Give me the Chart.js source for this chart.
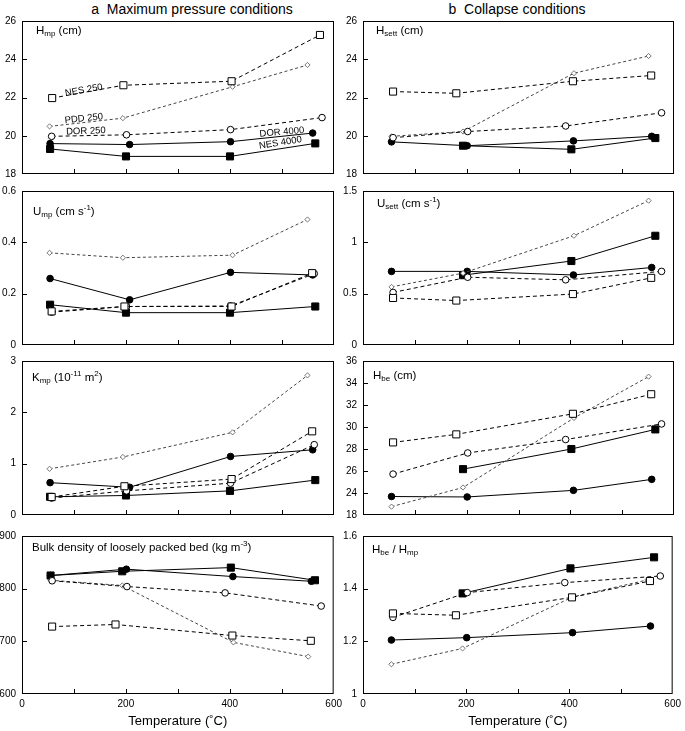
<!DOCTYPE html>
<html>
<head>
<meta charset="utf-8">
<script src="https://cdn.jsdelivr.net/npm/chart.js@4.4.0/dist/chart.umd.min.js"></script>
<style>
  body { margin: 0; background: #fff; }
  #wrap { position: relative; width: 685px; height: 731px; overflow: hidden; font-family: "Liberation Sans", Arial, sans-serif; }
  canvas { position: absolute; }
  .head { position: absolute; top: 1px; width: 300px; text-align: center; font-size: 14px; line-height: 16px; color: #000; white-space: pre; }
</style>
</head>
<body>
<div id="wrap">
  <div class="head" style="left:42px">a  Maximum pressure conditions</div>
  <div class="head" style="left:367px">b  Collapse conditions</div>
</div>
<script>
// temperatures (deg C) per series, max-pressure runs (left, rows 1-3)
const tNES250a = [57, 197, 403, 558];
const tPDD250a = [53, 194, 405, 549];
const tDOR250a = [57, 201, 401, 562];
const tDOR4000a = [54, 207, 401, 559];
const tNES4000a = [54, 200, 400, 564];
const tNES250Hmp = [58, 195, 403, 573];
const tDOR250Hmp = [57, 201, 401, 577];

// temperatures for bulk density + collapse runs
const tNES250b = [58, 180, 405, 556];
const tPDD250b = [55, 193, 407, 551];
const tDOR250b = [58, 202, 391, 576];
const tDOR4000b = [55, 201, 406, 557];
const tNES4000b = [55, 193, 402, 564];

// a: Hmp (cm)
const hmpNES250 = [21.97, 22.64, 22.85, 25.27];
const hmpPDD250 = [20.49, 20.92, 22.56, 23.7];
const hmpDOR250 = [19.97, 20.05, 20.32, 20.95];
const hmpDOR4000 = [19.59, 19.54, 19.69, 20.14];
const hmpNES4000 = [19.31, 18.92, 18.92, 19.6];

// a: Ump (cm/s)
const umpNES250 = [0.131, 0.150, 0.150, 0.280];
const umpPDD250 = [0.359, 0.340, 0.350, 0.489];
const umpDOR250 = [0.128, 0.150, 0.152, 0.278];
const umpDOR4000 = [0.259, 0.176, 0.283, 0.273];
const umpNES4000 = [0.157, 0.126, 0.126, 0.150];

// a: Kmp (1e-11 m2)
const kmpNES250 = [0.35, 0.56, 0.70, 1.63];
const kmpPDD250 = [0.90, 1.13, 1.61, 2.72];
const kmpDOR250 = [0.33, 0.47, 0.62, 1.37];
const kmpDOR4000 = [0.63, 0.54, 1.14, 1.27];
const kmpNES4000 = [0.355, 0.38, 0.47, 0.68];

// a: bulk density (kg/m3)
const rhoNES250 = [728, 732, 711, 701];
const rhoPDD250 = [816, 806, 698, 671];
const rhoDOR250 = [815, 804, 792, 767];
const rhoDOR4000 = [825, 837, 823, 814];
const rhoNES4000 = [825, 833, 840, 816];

// b: Hsett (cm)
const hsNES250 = [22.31, 22.22, 22.85, 23.15];
const hsPDD250 = [19.97, 20.22, 23.27, 24.17];
const hsDOR250 = [19.9, 20.22, 20.51, 21.2];
const hsDOR4000 = [19.68, 19.48, 19.73, 19.97];
const hsNES4000 = [null, 19.48, 19.29, 19.88];

// b: Usett (cm/s)
const usNES250 = [0.458, 0.433, 0.496, 0.654];
const usPDD250 = [0.566, 0.70, 1.064, 1.406];
const usDOR250 = [0.512, 0.66, 0.635, 0.717];
const usDOR4000 = [0.717, 0.717, 0.682, 0.755];
const usNES4000 = [null, 0.68, 0.818, 1.064];

// b: Hbe (cm) - axis bottom is labelled 18 in the original
const hbeNES250 = [28.6, 29.33, 31.2, 32.98];
const hbePDD250 = [22.76, 24.5, 30.82, 34.58];
const hbeDOR250 = [25.72, 27.64, 28.86, 30.28];
const hbeDOR4000 = [23.68, 23.64, 24.24, 25.24];
const hbeNES4000 = [null, 26.17, 28.0, 29.78];

// b: Hbe / Hmp
const ratNES250 = [1.306, 1.299, 1.367, 1.429];
const ratPDD250 = [1.113, 1.173, 1.369, 1.433];
const ratDOR250 = [1.291, 1.385, 1.423, 1.448];
const ratDOR4000 = [1.205, 1.214, 1.233, 1.258];
const ratNES4000 = [null, 1.382, 1.477, 1.519];

const xTicks = [0, 200, 400, 600];

const FONT = '"Liberation Sans", Arial, sans-serif';
Chart.defaults.font.family = FONT;
Chart.defaults.font.size = 10;
Chart.defaults.color = '#000';

const styles = {
    NES250: { borderColor: '#000', borderWidth: 1, borderDash: [4, 3], pointStyle: 'rect', pointRadius: 5,
              pointBackgroundColor: '#fff', pointBorderColor: '#000', pointBorderWidth: 1 },
    PDD250: { borderColor: '#444', borderWidth: 1, borderDash: [3, 2.5], pointStyle: 'rectRot', pointRadius: 2.6,
              pointBackgroundColor: '#fff', pointBorderColor: '#555', pointBorderWidth: 0.8 },
    DOR250: { borderColor: '#000', borderWidth: 1, borderDash: [4, 3], pointStyle: 'circle', pointRadius: 3.3,
              pointBackgroundColor: '#fff', pointBorderColor: '#000', pointBorderWidth: 1 },
    DOR4000: { borderColor: '#000', borderWidth: 1, pointStyle: 'circle', pointRadius: 3.3,
               pointBackgroundColor: '#000', pointBorderColor: '#000', pointBorderWidth: 1 },
    NES4000: { borderColor: '#000', borderWidth: 1, pointStyle: 'rect', pointRadius: 5,
               pointBackgroundColor: '#000', pointBorderColor: '#000', pointBorderWidth: 1 }
};

// plot-area placement
const rows = [{ top: 21, bottom: 178 }, { top: 191, bottom: 349 }, { top: 361, bottom: 519 }, { top: 536, bottom: 694 }];
const cols = [{ left: 0, width: 346, axisW: 22, padRight: 12 }, { left: 330, width: 355, axisW: 33, padRight: 11 }];

function drawRich(ctx, parts, x, y) {
    let cx = x;
    parts.forEach(([txt, kind]) => {
        const size = kind ? 8 : 11.5;
        ctx.font = size + 'px ' + FONT;
        const dy = kind === 'sub' ? 3 : (kind === 'sup' ? -4 : 0);
        ctx.fillText(txt, cx, y + dy);
        cx += ctx.measureText(txt).width;
    });
}

function makePanel(p) {
    const r = rows[p.row], c = cols[p.col];
    const last = p.row === 3;
    const top = r.top - 12;
    const h = last ? 731 - top : r.bottom - r.top + 20;
    const cv = document.createElement('canvas');
    cv.width = c.width; cv.height = h;
    cv.style.left = c.left + 'px'; cv.style.top = top + 'px';
    cv.style.width = c.width + 'px'; cv.style.height = h + 'px';
    document.getElementById('wrap').appendChild(cv);

    const frame = {
        id: 'frame',
        beforeDatasetsDraw(chart) {
            const { ctx, chartArea: a, scales: { x, y } } = chart;
            ctx.save();
            ctx.strokeStyle = '#000';
            ctx.lineWidth = 1;
            ctx.strokeRect(a.left + 0.5, a.top + 0.5, a.right - a.left - 1, a.bottom - a.top - 1);
            ctx.beginPath();
            // inward tick marks
            for (let t = 100; t < 600; t += 100) {
                const px = Math.round(x.getPixelForValue(t)) + 0.5;
                ctx.moveTo(px, a.bottom);
                ctx.lineTo(px, a.bottom - 5);
            }
            y.ticks.forEach(tk => {
                if (tk.value <= p.yMin || tk.value >= p.yMax) return;
                const py = Math.round(y.getPixelForValue(tk.value)) + 0.5;
                ctx.moveTo(a.left, py);
                ctx.lineTo(a.left + 5, py);
            });
            ctx.stroke();
            ctx.restore();
        },
        afterDraw(chart) {
            const { ctx, chartArea: a, scales: { x, y } } = chart;
            ctx.save();
            ctx.fillStyle = '#000';
            ctx.textBaseline = 'middle';
            ctx.textAlign = 'left';
            drawRich(ctx, p.label, a.left + p.labelPos[0], a.top + p.labelPos[1]);
            (p.notes || []).forEach(([txt, t, v, ang]) => {
                ctx.save();
                ctx.translate(x.getPixelForValue(t), y.getPixelForValue(v));
                ctx.rotate(ang * Math.PI / 180);
                ctx.font = '9.5px ' + FONT;
                ctx.textAlign = 'center';
                ctx.fillText(txt, 0, 0);
                ctx.restore();
            });
            ctx.restore();
        }
    };

    return new Chart(cv, {
        type: 'line',
        data: {
            datasets: p.series.map(([key, ts, vs]) => Object.assign({
                label: key,
                data: ts.map((t, i) => ({ x: t, y: vs[i] })),
                tension: 0,
                fill: false
            }, styles[key]))
        },
        options: {
            responsive: false,
            animation: false,
            events: [],
            devicePixelRatio: 1,
            layout: { padding: { top: 12, bottom: last ? 0 : 8, left: 0, right: c.padRight } },
            plugins: { legend: { display: false }, tooltip: { enabled: false } },
            scales: {
                x: {
                    type: 'linear', min: 0, max: 600, display: last,
                    afterBuildTicks: s => { s.ticks = xTicks.map(v => ({ value: v })); },
                    ticks: { padding: 4, maxRotation: 0, autoSkip: false, font: { size: 10 } },
                    grid: { display: false, drawTicks: false },
                    border: { display: false },
                    title: { display: last, text: 'Temperature (˚C)', font: { size: 13 }, padding: { top: 0, bottom: 2 } },
                    afterFit: s => { s.height = last ? 37 : 0; }
                },
                y: {
                    min: p.yMin, max: p.yMax,
                    ticks: {
                        stepSize: p.yStep, padding: 6, font: { size: 10 },
                        callback: v => (p.yFake && v === p.yMin) ? p.yFake : String(+v.toFixed(2))
                    },
                    grid: { display: false, drawTicks: false },
                    border: { display: false },
                    afterFit: s => { s.width = c.axisW; }
                }
            }
        },
        plugins: [frame]
    });
}

makePanel({
    row: 0, col: 0, yMin: 18, yMax: 26, yStep: 2,
    label: [['H'], ['mp', 'sub'], [' (cm)']], labelPos: [14, 10],
    series: [['NES250', tNES250Hmp, hmpNES250], ['DOR250', tDOR250Hmp, hmpDOR250], ['PDD250', tPDD250a, hmpPDD250],
             ['DOR4000', tDOR4000a, hmpDOR4000], ['NES4000', tNES4000a, hmpNES4000]],
    notes: [['NES 250', 119, 22.38, -10], ['PDD 250', 119, 20.9, -6], ['DOR 250', 123, 20.24, -2],
            ['DOR 4000', 500, 20.19, -5], ['NES 4000', 497, 19.63, -9]]
});
makePanel({
    row: 1, col: 0, yMin: 0, yMax: 0.6, yStep: 0.2,
    label: [['U'], ['mp', 'sub'], [' (cm s'], ['-1', 'sup'], [')']], labelPos: [11, 21],
    series: [['NES250', tNES250a, umpNES250], ['DOR250', tDOR250a, umpDOR250], ['PDD250', tPDD250a, umpPDD250],
             ['DOR4000', tDOR4000a, umpDOR4000], ['NES4000', tNES4000a, umpNES4000]]
});
makePanel({
    row: 2, col: 0, yMin: 0, yMax: 3, yStep: 1,
    label: [['K'], ['mp', 'sub'], [' (10'], ['-11', 'sup'], [' m'], ['2', 'sup'], [')']], labelPos: [10, 17],
    series: [['NES250', tNES250a, kmpNES250], ['DOR250', tDOR250a, kmpDOR250], ['PDD250', tPDD250a, kmpPDD250],
             ['DOR4000', tDOR4000a, kmpDOR4000], ['NES4000', tNES4000a, kmpNES4000]]
});
makePanel({
    row: 3, col: 0, yMin: 600, yMax: 900, yStep: 100,
    label: [['Bulk density of loosely packed bed (kg m'], ['-3', 'sup'], [')']], labelPos: [10, 12],
    series: [['NES250', tNES250b, rhoNES250], ['DOR250', tDOR250b, rhoDOR250], ['PDD250', tPDD250b, rhoPDD250],
             ['DOR4000', tDOR4000b, rhoDOR4000], ['NES4000', tNES4000b, rhoNES4000]]
});
makePanel({
    row: 0, col: 1, yMin: 18, yMax: 26, yStep: 2,
    label: [['H'], ['sett', 'sub'], [' (cm)']], labelPos: [13, 10],
    series: [['NES250', tNES250b, hsNES250], ['DOR250', tDOR250b, hsDOR250], ['PDD250', tPDD250b, hsPDD250],
             ['DOR4000', tDOR4000b, hsDOR4000], ['NES4000', tNES4000b, hsNES4000]]
});
makePanel({
    row: 1, col: 1, yMin: 0, yMax: 1.5, yStep: 0.5,
    label: [['U'], ['sett', 'sub'], [' (cm s'], ['-1', 'sup'], [')']], labelPos: [14, 13],
    series: [['NES250', tNES250b, usNES250], ['DOR250', tDOR250b, usDOR250], ['PDD250', tPDD250b, usPDD250],
             ['DOR4000', tDOR4000b, usDOR4000], ['NES4000', tNES4000b, usNES4000]]
});
makePanel({
    row: 2, col: 1, yMin: 22, yMax: 36, yStep: 2, yFake: '18',
    label: [['H'], ['be', 'sub'], [' (cm)']], labelPos: [10, 15],
    series: [['NES250', tNES250b, hbeNES250], ['DOR250', tDOR250b, hbeDOR250], ['PDD250', tPDD250b, hbePDD250],
             ['DOR4000', tDOR4000b, hbeDOR4000], ['NES4000', tNES4000b, hbeNES4000]]
});
makePanel({
    row: 3, col: 1, yMin: 1, yMax: 1.6, yStep: 0.2,
    label: [['H'], ['be', 'sub'], [' / H'], ['mp', 'sub']], labelPos: [9, 14],
    series: [['NES250', tNES250b, ratNES250], ['DOR250', tDOR250b, ratDOR250], ['PDD250', tPDD250b, ratPDD250],
             ['DOR4000', tDOR4000b, ratDOR4000], ['NES4000', tNES4000b, ratNES4000]]
});
</script>
</body>
</html>
